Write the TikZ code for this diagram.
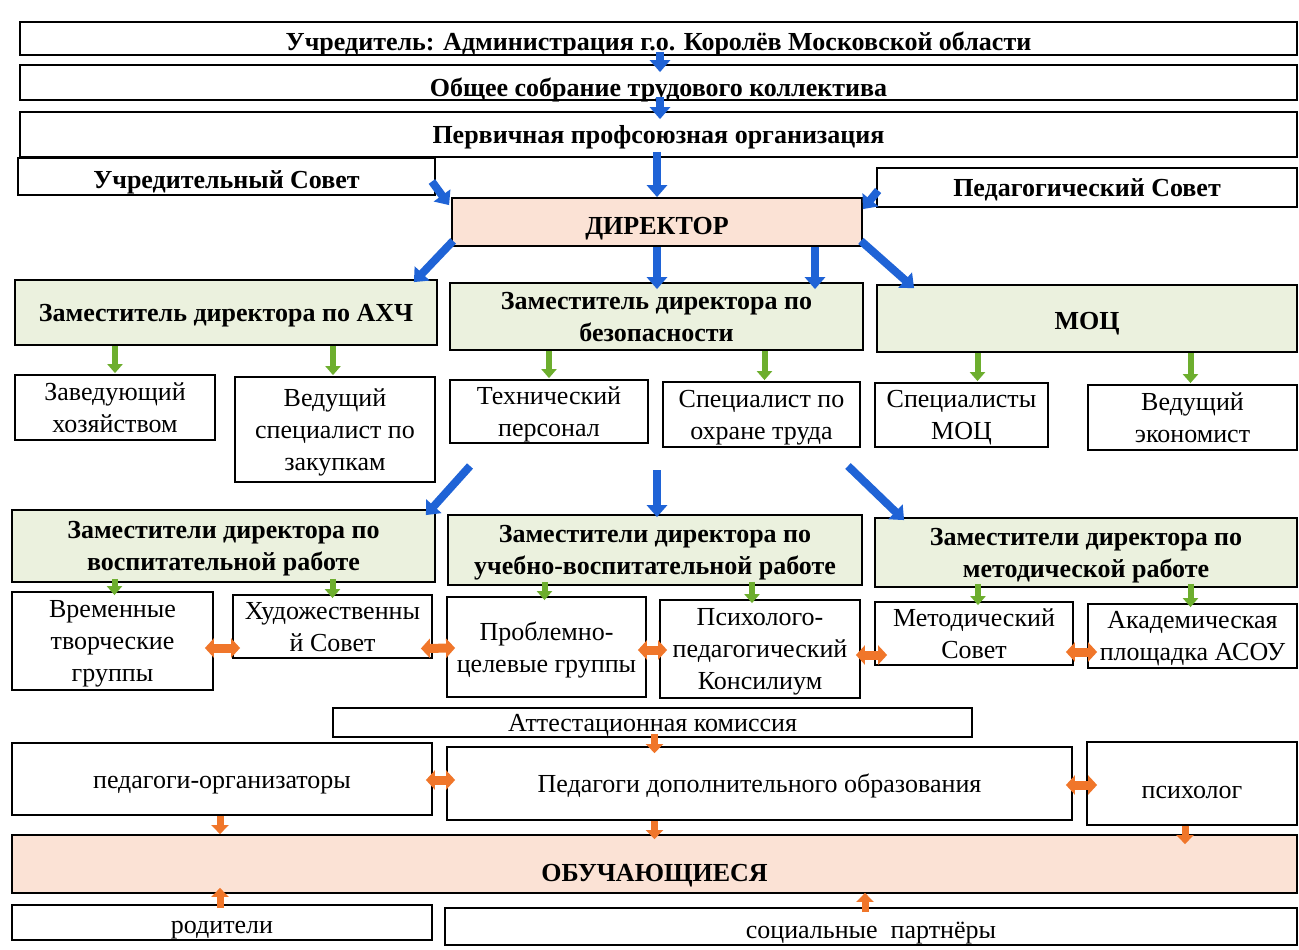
\documentclass[tikz,border=0pt]{standalone}
\usepackage{fontspec}
\setmainfont{Liberation Serif}
\usetikzlibrary{arrows.meta,calc}
\definecolor{pinkfill}{HTML}{FBE2D5}
\definecolor{greenfill}{HTML}{EBF1DE}
\definecolor{arrblue}{HTML}{1F63D6}
\definecolor{arrgreen}{HTML}{6DAE2E}
\definecolor{arrorange}{HTML}{F0762A}
\begin{document}
\begin{tikzpicture}[x=1pt,y=-1pt,
 box/.style={draw=black, line width=1.8pt, fill=white, inner sep=2pt, align=center,
   text depth=0pt, font=\fontsize{26}{32}\selectfont},
 hbox/.style={box, font=\fontsize{26}{32}\selectfont\bfseries},
 zam/.style={hbox, fill=greenfill},
 head/.style={hbox, fill=pinkfill},
 bluearr/.style={draw=arrblue, line width=8pt, -{Triangle[width=20pt,length=12pt]}},
 greenarr/.style={draw=arrgreen, line width=6pt, -{Triangle[width=15pt,length=9pt]}},
 orarr/.style={draw=arrorange, line width=7pt, -{Triangle[width=17pt,length=9pt]}},
 dblarr/.style={draw=arrorange, line width=9pt, {Triangle[width=19pt,length=9pt]}-{Triangle[width=19pt,length=9pt]}},
]
\useasboundingbox (0,0) rectangle (1299,950);
\fill[white] (0,0) rectangle (1299,950);

% top rows
\node[hbox, text height=25pt, minimum width=1277pt, minimum height=33pt] (t1) at (658.5,38.5) {Учредитель: Администрация г.о. Королёв Московской области};
\node[hbox, text height=27pt, minimum width=1277pt, minimum height=35pt] (t2) at (658.5,82.5) {Общее собрание трудового коллектива};
\node[hbox, minimum width=1277pt, minimum height=45pt] (t3) at (658.5,134.5) {Первичная профсоюзная организация};
\node[hbox, text height=23pt, minimum width=417pt, minimum height=37pt] (us) at (226.5,176.5) {Учредительный Совет};
\node[hbox, minimum width=420pt, minimum height=39pt] (ps) at (1087,187.5) {Педагогический Совет};
\node[head, text height=25pt, minimum width=410pt, minimum height=48pt] (dir) at (657,222) {ДИРЕКТОР};

% deputies level 1
\node[zam, minimum width=422pt, minimum height=65pt] (z1) at (226,312.5) {Заместитель директора по АХЧ};
\node[zam, minimum width=413pt, minimum height=67pt] (z2) at (656.5,316.5) {Заместитель директора по\\безопасности};
\node[zam, text height=21pt, minimum width=420pt, minimum height=67pt] (z3) at (1087,318.5) {МОЦ};

\node[box, minimum width=200pt, minimum height=65pt] (s1) at (115,407.5) {Заведующий\\хозяйством};
\node[box, minimum width=200pt, minimum height=105pt] (s2) at (335,429.5) {Ведущий\\специалист по\\закупкам};
\node[box, minimum width=198pt, minimum height=63pt] (s3) at (549,411.5) {Технический\\персонал};
\node[box, minimum width=197pt, minimum height=65pt] (s4) at (761.5,414.5) {Специалист по\\охране труда};
\node[box, minimum width=173pt, minimum height=64pt] (s5) at (961.5,415) {Специалисты\\МОЦ};
\node[box, minimum width=209pt, minimum height=65pt] (s6) at (1192.5,417.5) {Ведущий\\экономист};

% deputies level 2
\node[zam, minimum width=423pt, minimum height=72pt] (v1) at (223.5,546) {Заместители директора по\\воспитательной работе};
\node[zam, minimum width=414pt, minimum height=70pt] (v2) at (655,550) {Заместители директора по\\учебно-воспитательной работе};
\node[zam, minimum width=422pt, minimum height=69pt] (v3) at (1086,552.5) {Заместители директора по\\методической работе};

\node[box, minimum width=201pt, minimum height=98pt] (g1) at (112.5,641) {Временные\\творческие\\группы};
\node[box, minimum width=199pt, minimum height=63pt] (g2) at (332.5,626.5) {Художественны\\й Совет};
\node[box, minimum width=199pt, minimum height=100pt] (g3) at (546.5,647) {Проблемно-\\целевые группы};
\node[box, minimum width=200pt, minimum height=98pt] (g4) at (760,649) {Психолого-\\педагогический\\Консилиум};
\node[box, minimum width=198pt, minimum height=63pt] (g5) at (974,633.5) {Методический\\Совет};
\node[box, minimum width=209pt, minimum height=64pt] (g6) at (1192.5,636) {Академическая\\площадка АСОУ};

% bottom
\node[box, minimum width=639pt, minimum height=29pt, inner sep=0pt] (att) at (652.5,722.5) {Аттестационная комиссия};
\node[box, text height=18pt, minimum width=420pt, minimum height=72pt] (p1) at (222,779) {педагоги-организаторы};
\node[box, minimum width=625pt, minimum height=73pt] (p2) at (759.5,783.5) {Педагоги дополнительного образования};
\node[box, text height=30pt, minimum width=210pt, minimum height=83pt] (p3) at (1192,783.5) {психолог};
\node[head, text height=34pt, minimum width=1285pt, minimum height=58pt] (ob) at (654.5,864) {ОБУЧАЮЩИЕСЯ};
\node[box, text height=22pt, minimum width=420pt, minimum height=35pt] (r1) at (222,922.5) {родители};
\node[box, text height=24pt, minimum width=852pt, minimum height=37pt] (r2) at (871,926.5) {социальные\enspace партнёры};

% blue arrows top
\draw[bluearr] ($(t1.south)+(1.5,-4)$) -- ($(t2.north)+(1.5,8)$);
\draw[bluearr] ($(t2.south)+(1.5,-4)$) -- ($(t3.north)+(1.5,8)$);
\draw[bluearr] ($(t3.south)+(-1.5,-6)$) -- ($(dir.north)+(0,0)$);
\draw[bluearr] ($(us.east)+(-4,5)$) -- ($(dir.north west)+(-2,8)$);
\draw[bluearr] ($(ps.west)+(2,3)$) -- ($(dir.north east)+(0,12)$);
\draw[bluearr] ($(dir.south west)+(2,-6)$) -- ($(z1.north east)+(-24,3)$);
\draw[bluearr] (dir.south) -- ($(z2.north)+(0.5,7)$);
\draw[bluearr] ($(dir.south)+(158,0)$) -- ($(z2.north)+(158.5,7)$);
\draw[bluearr] ($(dir.south east)+(-2,-6)$) -- ($(z3.north west)+(38,4)$);

% green arrows level 1
\draw[greenarr] (s1.north |- z1.south) -- ($(s1.north)+(0,-1)$);
\draw[greenarr] ($(s2.north |- z1.south)+(-2,0)$) -- ($(s2.north)+(-2,-1)$);
\draw[greenarr] (s3.north |- z2.south) -- ($(s3.north)+(0,-1)$);
\draw[greenarr] ($(s4.north |- z2.south)+(3,0)$) -- ($(s4.north)+(3,-1)$);
\draw[greenarr] ($(s5.north |- z3.south)+(16,0)$) -- ($(s5.north)+(16,-1)$);
\draw[greenarr] ($(s6.north |- z3.south)+(-2,0)$) -- ($(s6.north)+(-2,-1)$);

% blue arrows level 2
\coordinate (b1) at (470,466);
\coordinate (b2) at (657,470);
\coordinate (b3) at (848,466);
\draw[bluearr] (b1) -- ($(v1.north east)+(-10,6)$);
\draw[bluearr] (b2) -- ($(v2.north -| b2)+(0,3)$);
\draw[bluearr] (b3) -- ($(v3.north west)+(30,3)$);

% green arrows level 2
\draw[greenarr] ($(g1.north |- v1.south)+(2,-4)$) -- ($(g1.north)+(2,4)$);
\draw[greenarr] ($(g2.north |- v1.south)+(0,-4)$) -- ($(g2.north)+(0,4)$);
\draw[greenarr] ($(g3.north |- v2.south)+(-2,-4)$) -- ($(g3.north)+(-2,4)$);
\draw[greenarr] ($(g4.north |- v2.south)+(-8,-4)$) -- ($(g4.north)+(-8,4)$);
\draw[greenarr] ($(g5.north |- v3.south)+(4,-4)$) -- ($(g5.north)+(4,4)$);
\draw[greenarr] ($(g6.north |- v3.south)+(-2,-4)$) -- ($(g6.north)+(-2,4)$);

% orange double arrows
\draw[dblarr] ($(g1.east)+(-9,7)$) -- ($(g2.west |- g1.east)+(8,7)$);
\draw[dblarr] ($(g2.east)+(-12,22)$) -- ($(g3.west)+(9,1)$);
\draw[dblarr] ($(g3.east)+(-9,3)$) -- ($(g4.west)+(8,1)$);
\draw[dblarr] ($(g4.east)+(-5,6)$) -- ($(g5.west)+(13,21.5)$);
\draw[dblarr] ($(g5.east)+(-8,18.5)$) -- ($(g6.west)+(10,16)$);
\draw[dblarr] ($(p1.east)+(-7,1)$) -- ($(p2.west)+(9,-3.5)$);
\draw[dblarr] ($(p2.east)+(-7,1.5)$) -- ($(p3.west)+(11,1.5)$);

% orange arrows bottom
\draw[orarr] ($(att.south)+(2,-4)$) -- ($(p2.north -| att.south)+(2,7)$);
\draw[orarr] ($(p1.south)+(-2,0)$) -- ($(ob.north -| p1.south)+(-2,0)$);
\draw[orarr] ($(p2.south -| att.south)+(2,0)$) -- ($(ob.north -| att.south)+(2,5)$);
\draw[orarr] ($(p3.south)+(-7,0)$) -- ($(ob.north -| p3.south)+(-7,10)$);
\draw[orarr] ($(r1.north)+(-2,4)$) -- ($(ob.south -| r1.north)+(-2,-6)$);
\draw[orarr] ($(r2.north)+(-6,5)$) -- ($(ob.south -| r2.north)+(-6,-1)$);
\end{tikzpicture}
\end{document}
